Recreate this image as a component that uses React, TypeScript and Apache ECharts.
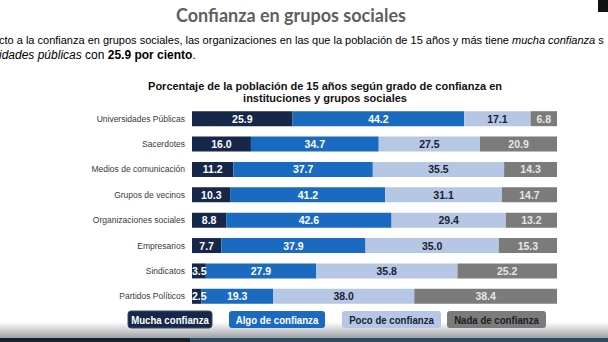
import React, { useEffect, useRef } from "react";
import * as echarts from "echarts";

const categories = [
  "Universidades Públicas",
  "Sacerdotes",
  "Medios de comunicación",
  "Grupos de vecinos",
  "Organizaciones sociales",
  "Empresarios",
  "Sindicatos",
  "Partidos Políticos",
];
const mucha = [25.9, 16.0, 11.2, 10.3, 8.8, 7.7, 3.5, 2.5];
const algo = [44.2, 34.7, 37.7, 41.2, 42.6, 37.9, 27.9, 19.3];
const poco = [17.1, 27.5, 35.5, 31.1, 29.4, 35.0, 35.8, 38.0];
const nada = [6.8, 20.9, 14.3, 14.7, 13.2, 15.3, 25.2, 38.4];
const seriesNames = ["Mucha confianza", "Algo de confianza", "Poco de confianza", "Nada de confianza"];

const colors = ["#16274a", "#1a6bbf", "#b5c7e4", "#7b7b7b"];
const labelColors = ["#ffffff", "#ffffff", "#1c2233", "#e6e6e6"];
const legendText = ["#ffffff", "#ffffff", "#1c2233", "#1e1e1e"];
const SANS = "'Liberation Sans', Arial, sans-serif";

export default function App() {
  const ref = useRef<HTMLDivElement>(null);
  useEffect(() => {
    document.body.style.margin = "0";
    const chart = echarts.init(ref.current!, null, { renderer: "svg" });
    const raw = [mucha, algo, poco, nada];
    const totals = categories.map((_, i) => raw.reduce((s, arr) => s + arr[i], 0));
    const plotWidth = 365;
    const series = raw.map((arr, k) => ({
      type: "bar",
      name: seriesNames[k],
      stack: "total",
      barWidth: 15,
      data: arr.map((v, i) => {
        const pct = (v / totals[i]) * 100;
        const narrow = (pct / 100) * plotWidth < 20;
        return narrow
          ? { value: pct, label: { position: "insideLeft", distance: 0 } }
          : { value: pct };
      }),
      itemStyle: { color: colors[k] },
      label: {
        show: true,
        position: "inside",
        color: labelColors[k],
        fontFamily: SANS,
        fontWeight: "bold",
        fontSize: 10.5,
        formatter: (p: any) => arr[p.dataIndex].toFixed(1),
      },
    }));

    const legendBoxes = [
      { x: 128, w: 84 },
      { x: 229, w: 96 },
      { x: 342, w: 99 },
      { x: 447, w: 99 },
    ];
    const legendGraphics = legendBoxes.map((b, k) => ({
      type: "group",
      x: b.x,
      y: 311,
      children: [
        {
          type: "rect",
          shape: { x: 0, y: 0, width: b.w, height: 17, r: 3 },
          style: { fill: colors[k], stroke: k === 0 ? "#3a4a66" : null, lineWidth: 1 },
        },
        {
          type: "text",
          x: b.w / 2,
          y: 9,
          scaleX: 0.84,
          style: {
            text: seriesNames[k],
            fill: legendText[k],
            font: `bold 11.5px ${SANS}`,
            align: "center",
            verticalAlign: "middle",
          },
        },
      ],
    }));

    chart.setOption({
      animation: false,
      backgroundColor: "#ffffff",
      grid: { left: 192, right: 51, top: 106, bottom: 33, containLabel: false },
      xAxis: { type: "value", min: 0, max: 100, show: false },
      yAxis: {
        type: "category",
        data: categories,
        inverse: true,
        axisLine: { show: false },
        axisTick: { show: false },
        axisLabel: { color: "#3a3a3a", fontSize: 8.5, fontFamily: SANS, margin: 7 },
      },
      series,
      graphic: [
        {
          type: "rect",
          shape: { x: 0, y: 322, width: 608, height: 17 },
          style: {
            fill: new echarts.graphic.LinearGradient(0, 0, 0, 1, [
              { offset: 0, color: "#ffffff" },
              { offset: 1, color: "#9a9ca0" },
            ]),
          },
          z: -1,
        },
        { type: "rect", shape: { x: 0, y: 338, width: 190, height: 4 }, style: { fill: "#1a1f2c" } },
        { type: "rect", shape: { x: 190, y: 338, width: 418, height: 4 }, style: { fill: "#2f4a66" } },
        { type: "rect", shape: { x: 598, y: 0, width: 10, height: 12 }, style: { fill: "#111111" } },
        {
          type: "text",
          x: 291,
          y: 15,
          style: {
            text: "Confianza en grupos sociales",
            fill: "#5f5f5f",
            font: "bold 18px Lato, 'Open Sans', sans-serif",
            align: "center",
            verticalAlign: "middle",
          },
        },
        {
          type: "text",
          x: -1,
          y: 40,
          style: {
            text: "{n|cto a la confianza en grupos sociales, las organizaciones en las que la población de 15 años y más tiene }{i|mucha confianza}{n| s}",
            verticalAlign: "middle",
            rich: {
              n: { fontSize: 11, fontFamily: SANS, color: "#333333" },
              i: { fontStyle: "italic", fontSize: 11, fontFamily: SANS, color: "#333333" },
            },
          },
        },
        {
          type: "text",
          x: -1,
          y: 55,
          style: {
            text: "{i|idades públicas}{n| con }{b|25.9 por ciento}{n|.}",
            verticalAlign: "middle",
            rich: {
              n: { fontSize: 12, fontFamily: SANS, color: "#333333" },
              i: { fontStyle: "italic", fontSize: 12, fontFamily: SANS, color: "#333333" },
              b: { fontWeight: "bold", fontSize: 12, fontFamily: SANS, color: "#222222" },
            },
          },
        },
        {
          type: "text",
          x: 325,
          y: 92,
          style: {
            text: "Porcentaje de la población de 15 años según grado de confianza en\ninstituciones y grupos sociales",
            fill: "#111111",
            font: `bold 11px ${SANS}`,
            lineHeight: 12,
            align: "center",
            verticalAlign: "middle",
          },
        },
        ...legendGraphics,
      ],
    });
    return () => chart.dispose();
  }, []);
  return <div ref={ref} style={{ width: 608, height: 342 }} />;
}
